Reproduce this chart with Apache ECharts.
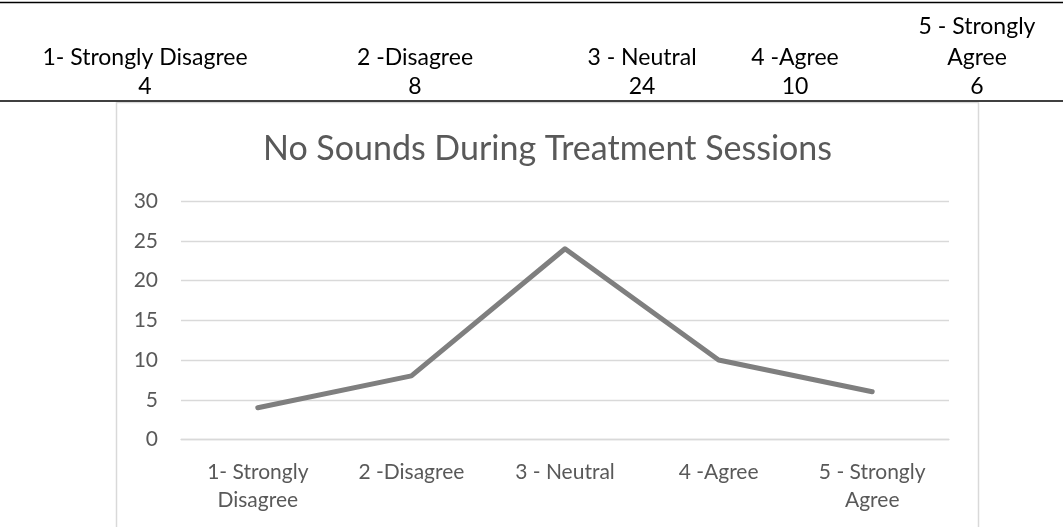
<!DOCTYPE html>
<html>
<head>
<meta charset="utf-8">
<script src="https://cdn.jsdelivr.net/npm/echarts@6/dist/echarts.min.js"></script>
<style>
html,body{margin:0;padding:0;background:#fff;}
#c{width:1063px;height:527px;}
</style>
</head>
<body>
<div id="c"></div>
<script>
// ---- data ----
var categories = ['1- Strongly Disagree', '2 -Disagree', '3 - Neutral', '4 -Agree', '5 - Strongly Agree'];
var counts = [4, 8, 24, 10, 6];
var tableHeaders = ['1- Strongly Disagree', '2 -Disagree', '3 - Neutral', '4 -Agree', '5 - Strongly\nAgree'];
var yTicks = [0, 5, 10, 15, 20, 25, 30];
var chartTitle = 'No Sounds During Treatment Sessions';

// ---- layout ----
var FONT = 'Lato, "Open Sans", sans-serif';
var colCenters = [145, 415, 642, 795, 977];

var chart = echarts.init(document.getElementById('c'), null, {renderer: 'canvas'});

var graphics = [
  {type: 'line', shape: {x1: 0, y1: 2.5, x2: 1063, y2: 2.5}, style: {stroke: '#000', lineWidth: 1.5}, z: 10},
  {type: 'line', shape: {x1: 0, y1: 101, x2: 1063, y2: 101}, style: {stroke: '#000', lineWidth: 1.5}, z: 10},
  {type: 'rect', shape: {x: 116.5, y: 102.5, width: 862, height: 460}, style: {fill: 'transparent', stroke: '#d9d9d9', lineWidth: 1.5}, z: 1},
  {type: 'text', x: 547.5, y: 149, style: {text: chartTitle, font: '34px ' + FONT, fill: '#595959', textAlign: 'center', textVerticalAlign: 'middle'}, z: 10}
];
tableHeaders.forEach(function (h, i) {
  graphics.push({type: 'text', x: colCenters[i], y: 73,
    style: {text: h, font: '23px ' + FONT, fill: '#000', textAlign: 'center', textVerticalAlign: 'bottom', lineHeight: 31}, z: 10});
  graphics.push({type: 'text', x: colCenters[i], y: 87,
    style: {text: String(counts[i]), font: '23px ' + FONT, fill: '#000', textAlign: 'center', textVerticalAlign: 'middle'}, z: 10});
});

var option = {
  animation: false,
  backgroundColor: '#fff',
  graphic: graphics,
  grid: {left: 181, right: 114, top: 201, bottom: 87.5, containLabel: false},
  xAxis: {
    type: 'category',
    data: categories,
    boundaryGap: true,
    axisLine: {show: true, lineStyle: {color: '#d9d9d9', width: 1.3}},
    axisTick: {show: false},
    axisLabel: {
      color: '#595959', fontFamily: FONT, fontSize: 21, lineHeight: 28, margin: 19,
      interval: 0,
      formatter: function (v) { return v.replace('Strongly ', 'Strongly\n'); }
    },
    splitLine: {show: false}
  },
  yAxis: {
    type: 'value',
    min: yTicks[0], max: yTicks[yTicks.length - 1], interval: yTicks[1] - yTicks[0],
    axisLine: {show: false},
    axisTick: {show: false},
    axisLabel: {color: '#595959', fontFamily: FONT, fontSize: 21, margin: 23},
    splitLine: {show: true, lineStyle: {color: '#d9d9d9', width: 1.3}}
  },
  series: [{
    type: 'line',
    data: counts,
    symbol: 'none',
    lineStyle: {color: '#7f7f7f', width: 5, cap: 'round', join: 'round'},
    z: 5
  }]
};
chart.setOption(option);
</script>
</body>
</html>
